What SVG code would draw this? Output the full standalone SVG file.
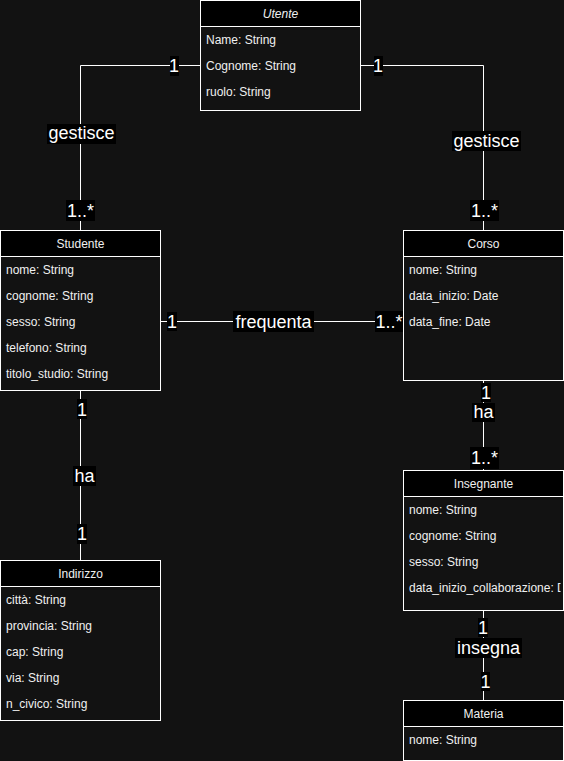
<svg xmlns="http://www.w3.org/2000/svg" width="564" height="761" viewBox="0 0 564 761">
<defs>
<style>
.bg{fill:#121212}
.box{fill:#121212;stroke:#ffffff;stroke-width:1}
.hdr{fill:#000000;stroke:#ffffff;stroke-width:1}
.t{font-family:"Liberation Sans",Arial,sans-serif;font-size:12px;fill:#f0f0f0}
.ttl{text-anchor:middle}
.it{font-style:italic}
.edge{fill:none;stroke:#ffffff;stroke-width:1}
.lb{fill:#000000}
.lt{font-family:"Liberation Sans",Arial,sans-serif;font-size:18px;fill:#ffffff;text-anchor:middle}
</style>
<clipPath id="clipIns"><rect x="403.5" y="496.5" width="157" height="114"/></clipPath>
</defs>
<rect class="bg" x="0" y="0" width="564" height="761"/>

<g id="connectors">
<path class="edge" d="M200.5,65.5 H80.5 V230.5"/>
<path class="edge" d="M360.5,65.5 H483.5 V230.5"/>
<path class="edge" d="M160.5,321.5 H403.5"/>
<path class="edge" d="M80.5,390.5 V560.5"/>
<path class="edge" d="M483.5,380.5 V470.5"/>
<path class="edge" d="M483.5,610.5 V700.5"/>

<rect class="lb" x="170" y="56" width="9" height="20"/><text class="lt" x="174" y="72">1</text>
<rect class="lb" x="47" y="124" width="69" height="20"/><text class="lt" x="81.5" y="139">gestisce</text>
<rect class="lb" x="66" y="200" width="29" height="21"/><text class="lt" x="80.5" y="217">1..*</text>

<rect class="lb" x="374" y="56" width="9" height="20"/><text class="lt" x="378" y="72">1</text>
<rect class="lb" x="452" y="131" width="69" height="20"/><text class="lt" x="486.5" y="147">gestisce</text>
<rect class="lb" x="470" y="200" width="29" height="21"/><text class="lt" x="484.5" y="217">1..*</text>

<rect class="lb" x="167" y="312" width="10" height="19"/><text class="lt" x="172" y="328">1</text>
<rect class="lb" x="233" y="311" width="81" height="21"/><text class="lt" x="273.5" y="328">frequenta</text>
<rect class="lb" x="375" y="311" width="28" height="21"/><text class="lt" x="389" y="328">1..*</text>

<rect class="lb" x="77" y="399" width="10" height="20"/><text class="lt" x="82" y="416">1</text>
<rect class="lb" x="73" y="466" width="23" height="20"/><text class="lt" x="84.5" y="482">ha</text>
<rect class="lb" x="77" y="524" width="10" height="20"/><text class="lt" x="82" y="540">1</text>

<rect class="lb" x="481" y="383" width="10" height="19"/><text class="lt" x="486" y="399">1</text>
<rect class="lb" x="472" y="403" width="23" height="19"/><text class="lt" x="483.5" y="418">ha</text>
<rect class="lb" x="470" y="447" width="29" height="22"/><text class="lt" x="484.5" y="464">1..*</text>

<rect class="lb" x="478" y="618" width="10" height="19"/><text class="lt" x="483" y="634">1</text>
<rect class="lb" x="455" y="638" width="67" height="20"/><text class="lt" x="488.5" y="654">insegna</text>
<rect class="lb" x="481" y="672" width="9" height="19"/><text class="lt" x="485.5" y="688">1</text>
</g>

<g id="utente">
<rect class="box" x="200.5" y="0.5" width="160" height="110"/>
<rect class="hdr" x="200.5" y="0.5" width="160" height="26"/>
<text class="t ttl it" x="280.5" y="18">Utente</text>
<text class="t" x="206" y="44">Name: String</text>
<text class="t" x="206" y="70">Cognome: String</text>
<text class="t" x="206" y="96">ruolo: String</text>
</g>

<g id="studente">
<rect class="box" x="0.5" y="230.5" width="160" height="160"/>
<rect class="hdr" x="0.5" y="230.5" width="160" height="26"/>
<text class="t ttl" x="80.5" y="248">Studente</text>
<text class="t" x="6" y="274">nome: String</text>
<text class="t" x="6" y="300">cognome: String</text>
<text class="t" x="6" y="326">sesso: String</text>
<text class="t" x="6" y="352">telefono: String</text>
<text class="t" x="6" y="378">titolo_studio: String</text>
</g>

<g id="corso">
<rect class="box" x="403.5" y="230.5" width="160" height="150"/>
<rect class="hdr" x="403.5" y="230.5" width="160" height="26"/>
<text class="t ttl" x="483.5" y="248">Corso</text>
<text class="t" x="409" y="274">nome: String</text>
<text class="t" x="409" y="300">data_inizio: Date</text>
<text class="t" x="409" y="326">data_fine: Date</text>
</g>

<g id="insegnante">
<rect class="box" x="403.5" y="470.5" width="160" height="140"/>
<rect class="hdr" x="403.5" y="470.5" width="160" height="26"/>
<text class="t ttl" x="483.5" y="488">Insegnante</text>
<text class="t" x="409" y="514">nome: String</text>
<text class="t" x="409" y="540">cognome: String</text>
<text class="t" x="409" y="566">sesso: String</text>
<text class="t" x="409" y="592" clip-path="url(#clipIns)">data_inizio_collaborazione: Date</text>
</g>

<g id="indirizzo">
<rect class="box" x="0.5" y="560.5" width="160" height="160"/>
<rect class="hdr" x="0.5" y="560.5" width="160" height="26"/>
<text class="t ttl" x="80.5" y="578">Indirizzo</text>
<text class="t" x="6" y="604">città: String</text>
<text class="t" x="6" y="630">provincia: String</text>
<text class="t" x="6" y="656">cap: String</text>
<text class="t" x="6" y="682">via: String</text>
<text class="t" x="6" y="708">n_civico: String</text>
</g>

<g id="materia">
<rect class="box" x="403.5" y="700.5" width="160" height="60"/>
<rect class="hdr" x="403.5" y="700.5" width="160" height="26"/>
<text class="t ttl" x="483.5" y="718">Materia</text>
<text class="t" x="409" y="744">nome: String</text>
</g>
</svg>
